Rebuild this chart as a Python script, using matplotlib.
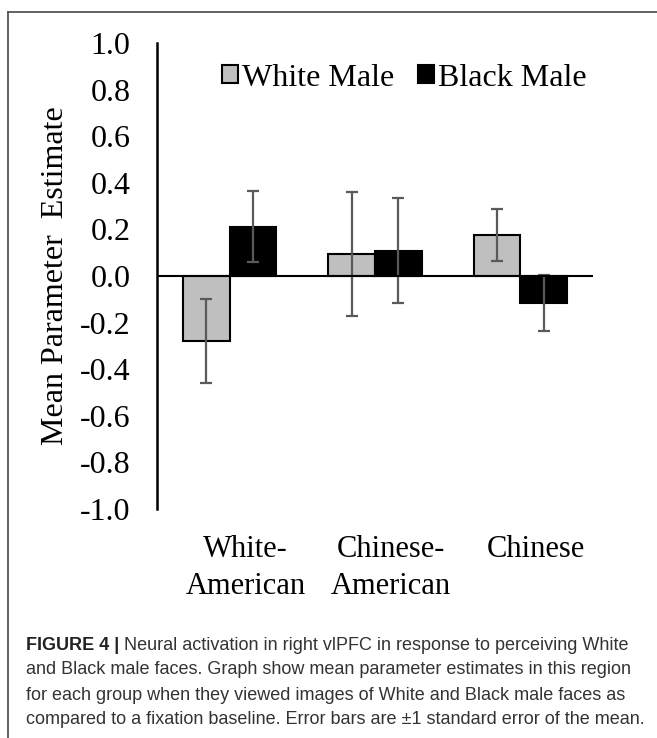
import numpy as np
import matplotlib
matplotlib.use("Agg")
import matplotlib.pyplot as plt
import matplotlib.transforms as mtransforms
from matplotlib.lines import Line2D

# ========== DATA ==========
groups = ["White-\nAmerican", "Chinese-\nAmerican", "Chinese"]
white_male = [-0.28, 0.095, 0.177]
white_male_se = [0.18, 0.265, 0.112]
black_male = [0.212, 0.108, -0.117]
black_male_se = [0.152, 0.225, 0.12]
y_ticks = [-1.0, -0.8, -0.6, -0.4, -0.2, 0.0, 0.2, 0.4, 0.6, 0.8, 1.0]

caption_lines = [
    "and Black male faces. Graph show mean parameter estimates in this region",
    "for each group when they viewed images of White and Black male faces as",
    "compared to a fixation baseline. Error bars are \u00b11 standard error of the mean.",
]

# ========== FIGURE ==========
W, H = 657, 738
fig = plt.figure(figsize=(W / 100, H / 100), dpi=100)
serif = "Liberation Serif"
sans = "Liberation Sans"

# outer frame (top and left only)
frame_col = "#555555"
fig.add_artist(Line2D([8 / W, 1.0], [1 - 12 / H, 1 - 12 / H], color=frame_col, lw=1.3))
fig.add_artist(Line2D([8 / W, 8 / W], [0.0, 1 - 12 / H], color=frame_col, lw=1.3))

ax = fig.add_axes([157 / W, 1 - 509 / H, (593 - 157) / W, (509 - 43) / H])

x = np.arange(len(groups))
bw = 0.32
err_kw = dict(ecolor="#5a5a5a", elinewidth=1.6, capsize=4.5, capthick=1.6)
ax.bar(x - bw / 2, white_male, bw, color="#bfbfbf", edgecolor="black", linewidth=1.5,
       yerr=white_male_se, error_kw=err_kw, label="White Male", zorder=2)
ax.bar(x + bw / 2, black_male, bw, color="black", edgecolor="black", linewidth=1.5,
       yerr=black_male_se, error_kw=err_kw, label="Black Male", zorder=2)

ax.axhline(0, color="black", lw=1.5, zorder=3)
ax.set_xlim(-0.5, len(groups) - 0.5)
ax.set_ylim(-1.0, 1.0)
for s in ["top", "right", "bottom"]:
    ax.spines[s].set_visible(False)
ax.spines["left"].set_linewidth(1.8)

ax.set_yticks(y_ticks)
ax.set_yticklabels([f"{v:.1f}" for v in y_ticks], fontfamily=serif, fontsize=23)
ax.tick_params(axis="y", length=0, pad=19)

ax.set_xticks(x)
ax.set_xticklabels(groups, fontfamily=serif, fontsize=22, linespacing=1.33)
ax.tick_params(axis="x", length=0, pad=19)
shift = mtransforms.ScaledTranslation(16 / 100, 0, fig.dpi_scale_trans)
for lab in ax.get_xticklabels():
    lab.set_transform(lab.get_transform() + shift)

ax.set_ylabel("Mean Parameter  Estimate", fontfamily=serif, fontsize=23)
ax.yaxis.set_label_coords((70 - 157) / 436, 0.5)

leg_handles = [
    plt.Rectangle((0, 0), 1, 1, facecolor="#bfbfbf", edgecolor="black", lw=1.5),
    plt.Rectangle((0, 0), 1, 1, facecolor="black", edgecolor="black", lw=1.5),
]
ax.legend(leg_handles, ["White Male", "Black Male"], ncol=2, frameon=False,
          loc="center", bbox_to_anchor=((404 - 157) / 436, (509 - 78) / 466),
          prop={"family": serif, "size": 23}, handlelength=0.5, handleheight=0.5,
          handletextpad=0.12, columnspacing=0.75)

# ========== CAPTION ==========
cap_size = 13
y0 = 645
bold = fig.text(26 / W, 1 - y0 / H, "FIGURE 4 |", fontfamily=sans, fontweight="bold",
                fontsize=cap_size, color="#222222", va="center", ha="left")
plt.annotate(" Neural activation in right vlPFC in response to perceiving White",
             xy=(1, 0.5), xycoords=bold, va="center", ha="left",
             fontfamily=sans, fontsize=cap_size, color="#333333",
             annotation_clip=False)
for i, line in enumerate(caption_lines):
    fig.text(26 / W, 1 - (y0 + 25 * (i + 1)) / H, line, fontfamily=sans,
             fontsize=cap_size, color="#333333", va="center", ha="left")

fig.savefig("out.png", dpi=100)
